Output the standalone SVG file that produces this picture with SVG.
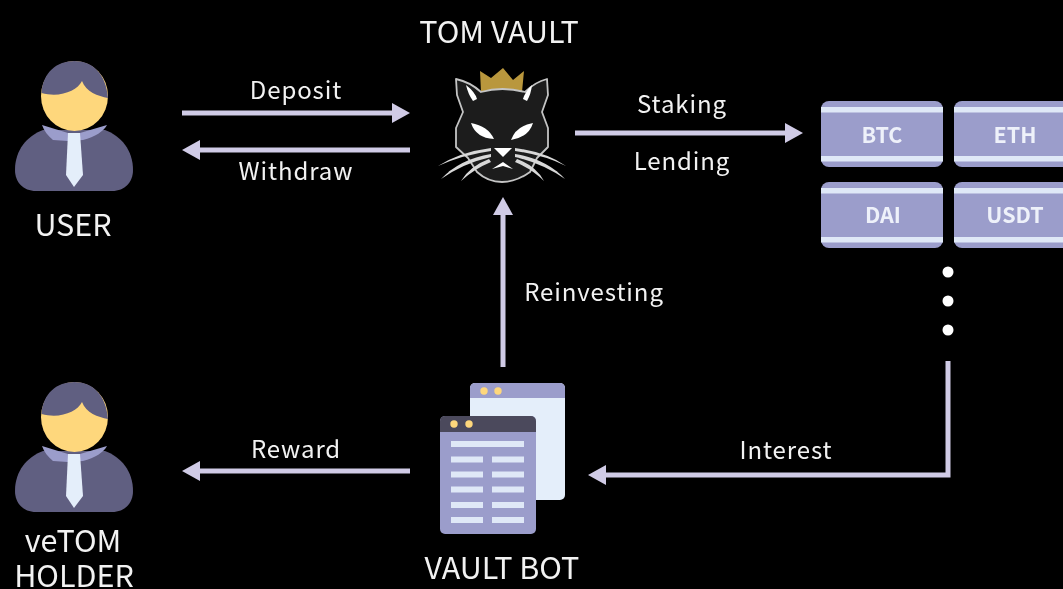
<svg xmlns="http://www.w3.org/2000/svg" width="1063" height="589" viewBox="0 0 1063 589">
<style>
text{font-family:"Noto Sans CJK SC","Noto Sans",sans-serif;fill:#f2f2f2}
.t{font-size:30.5px;text-anchor:middle}
.l{font-size:24px;text-anchor:middle;letter-spacing:.9px}
.c{font-size:21.5px;font-weight:700;fill:#eef1fa;text-anchor:middle}
.w{fill:none;stroke:#d0cbe6;stroke-width:5}
.a{fill:#d0cbe6}
.box{fill:#9b9dcb}
.bar{fill:#dfe8f7}
</style>
<defs>
<filter id="soft" x="0" y="0" width="100%" height="100%" filterUnits="userSpaceOnUse" primitiveUnits="userSpaceOnUse"><feGaussianBlur stdDeviation="0.55"/></filter>
<g id="person">
<path d="M15 170C15 150 27 136 43 130L105 130C121 136 133 150 133 170C133 182 125 191 112 191L36 191C23 191 15 182 15 170Z" fill="#615e81"/>
<path d="M42 125L68 133H80L107 125C104 131 95 137 83 140L68 141L53 140C48 136 44 131 42 125Z" fill="#9b9dcb"/>
<ellipse cx="74.500" cy="96" rx="33.500" ry="35" fill="#fed77c"/>
<path d="M68 133H80L83 175L74 187L66 175Z" fill="#e4eefa"/>
<path d="M41.500 93C43 72 57 61 74.500 61C92 61 106 73 108 98C98 96 86 92 82 81C77 91 60 98 41.500 93Z" fill="#615e81"/>
</g>
<g id="coin">
<rect width="122" height="66" rx="8" class="box"/>
<rect y="6" width="122" height="5.500" class="bar"/>
<rect y="55" width="122" height="5.500" class="bar"/>
</g>
</defs>
<rect width="1063" height="589" fill="#000"/>
<g filter="url(#soft)">
<g id="connectors">
<path class="w" d="M182 113H396"/><path class="a" d="M410 113L392 103V123Z"/>
<path class="w" d="M410 150H196"/><path class="a" d="M182 150L200 140V160Z"/>
<path class="w" d="M575 133H788"/><path class="a" d="M803 133L785 123V143Z"/>
<path class="w" d="M503 367V212"/><path class="a" d="M503 197L493 215H513Z"/>
<path class="w" d="M410 471H196"/><path class="a" d="M182 471L200 461V481Z"/>
<path class="w" d="M948 361V475H602"/><path class="a" d="M588 475L606 465V485Z"/>
</g>
<g id="user"><use href="#person"/><text class="t" x="73" y="236">USER</text></g>
<g id="veTOM-holder"><use href="#person" y="321"/><text class="t" x="73" y="552">veTOM</text><text class="t" x="74" y="587">HOLDER</text></g>
<g id="tom-vault">
<text class="t" x="499" y="43">TOM VAULT</text>
<path d="M481 92L480 71L491 78L503 68L513 80L524 71L522 92Q500 87 481 92Z" fill="#b9973c"/>
<path d="M456 79Q470 82 481 92Q502 86 525 92Q535 82 547 79L548 95L542 112L548 128V147L537 158L530 172Q516 182 502 182Q488 182 477 172L468 158L456 147V128L463 112L457 95Z" fill="#1c1e1e" stroke="#c4c4c4" stroke-width="1.800" stroke-linejoin="round"/>
<path d="M466 85Q475 92 477 99L473 101Q468 94 466 85ZM532 85Q531 94 527 101L523 99Q525 92 532 85Z" fill="#fff"/>
<path d="M471 123Q488 126 494 139Q476 138 471 123ZM533 123Q516 126 511 140Q529 137 533 123Z" fill="#fff"/>
<path d="M494 148H512L503 157Z" fill="#fff"/>
<path d="M492 169L503 162L513 169L503 166Z" fill="#fff"/>
<g fill="#d8d8d8">
<path d="M491 148Q460 152 438 166Q462 155 491 151ZM491 154Q460 159 441 179Q464 163 491 157ZM489 159Q470 166 461 181Q474 169 491 162ZM486 156Q465 160 448 172Q468 163 487 158Z"/>
<path d="M515 148Q546 152 566 166Q544 155 515 151ZM515 154Q546 159 565 179Q542 163 515 157ZM517 159Q536 166 544 181Q532 169 515 162ZM520 156Q541 160 558 172Q538 163 519 158Z"/>
</g>
</g>
<g id="coins">
<g id="btc"><use href="#coin" x="821" y="101"/><text class="c" x="882" y="143">BTC</text></g>
<g id="eth"><use href="#coin" x="954" y="101"/><text class="c" x="1015" y="143">ETH</text></g>
<g id="dai"><use href="#coin" x="821" y="182"/><text class="c" x="883" y="223">DAI</text></g>
<g id="usdt"><use href="#coin" x="954" y="182"/><text class="c" x="1015" y="223">USDT</text></g>
</g>
<g id="dots" fill="#fff"><circle cx="948" cy="272" r="5.500"/><circle cx="948" cy="301" r="5.500"/><circle cx="948" cy="330" r="5.500"/></g>
<g id="vault-bot">
<rect x="470" y="383" width="95" height="117" rx="5" fill="#e4eefa"/>
<path d="M470 398V388a5 5 0 0 1 5-5H560a5 5 0 0 1 5 5V398Z" class="box"/>
<circle cx="484" cy="391" r="3.700" fill="#fed77c"/><circle cx="498" cy="391" r="3.700" fill="#fed77c"/>
<rect x="440" y="416" width="96" height="118" rx="5" class="box"/>
<path d="M440 432V421a5 5 0 0 1 5-5H531a5 5 0 0 1 5 5V432Z" fill="#4c4a5c"/>
<circle cx="454" cy="424" r="3.700" fill="#fed77c"/><circle cx="469" cy="424" r="3.700" fill="#fed77c"/>
<g class="bar">
<rect x="451" y="441" width="73" height="6"/>
<rect x="451" y="456.500" width="32" height="6"/><rect x="492" y="456.500" width="32" height="6"/>
<rect x="451" y="471.500" width="32" height="6"/><rect x="492" y="471.500" width="32" height="6"/>
<rect x="451" y="486.500" width="32" height="6"/><rect x="492" y="486.500" width="32" height="6"/>
<rect x="451" y="502" width="32" height="6"/><rect x="492" y="502" width="32" height="6"/>
<rect x="451" y="517" width="32" height="6"/><rect x="492" y="517" width="32" height="6"/>
</g>
<text class="t" x="502" y="579">VAULT BOT</text>
</g>
<g id="labels">
<text class="l" x="296" y="99">Deposit</text>
<text class="l" x="296" y="180">Withdraw</text>
<text class="l" x="682" y="113">Staking</text>
<text class="l" x="682" y="170">Lending</text>
<text class="l" x="594" y="301">Reinvesting</text>
<text class="l" x="296" y="458">Reward</text>
<text class="l" x="786" y="459">Interest</text>
</g>
</g>
</svg>
